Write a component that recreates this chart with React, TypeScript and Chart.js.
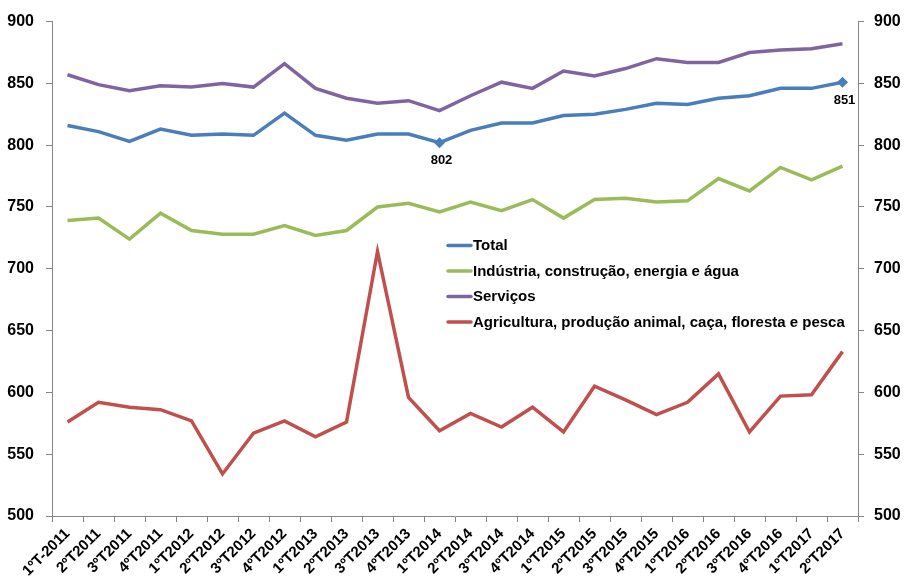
import React, { useEffect, useRef } from "react";
import { Chart, registerables } from "chart.js";

Chart.register(...registerables);

const categories = [
  "1ºT-2011", "2ºT2011", "3ºT2011", "4ºT2011",
  "1ºT2012", "2ºT2012", "3ºT2012", "4ºT2012",
  "1ºT2013", "2ºT2013", "3ºT2013", "4ºT2013",
  "1ºT2014", "2ºT2014", "3ºT2014", "4ºT2014",
  "1ºT2015", "2ºT2015", "3ºT2015", "4ºT2015",
  "1ºT2016", "2ºT2016", "3ºT2016", "4ºT2016",
  "1ºT2017", "2ºT2017",
];

const totalValues = [816, 811, 803, 813, 808, 809, 808, 826, 808, 804, 809, 809, 802, 812, 818, 818, 824, 825, 829, 834, 833, 838, 840, 846, 846, 851];
const industriaValues = [739, 741, 724, 745, 731, 728, 728, 735, 727, 731, 750, 753, 746, 754, 747, 756, 741, 756, 757, 754, 755, 773, 763, 782, 772, 783];
const servicosValues = [857, 849, 844, 848, 847, 850, 847, 866, 846, 838, 834, 836, 828, 840, 851, 846, 860, 856, 862, 870, 867, 867, 875, 877, 878, 882];
const agriculturaValues = [576, 592, 588, 586, 577, 534, 567, 577, 564, 576, 714, 596, 569, 583, 572, 588, 568, 605, 594, 582, 592, 615, 568, 597, 598, 633];

const yTicks = [500, 550, 600, 650, 700, 750, 800, 850, 900];

const labeledTotalIndices = [12, 25];

const seriesNames = [
  "Total",
  "Indústria, construção, energia e água",
  "Serviços",
  "Agricultura, produção animal, caça, floresta e pesca",
];
const seriesColors = ["#4A7EBB", "#9BBB59", "#8064A2", "#C0504D"];

const FONT = "'Liberation Sans', Arial, sans-serif";

export default function App() {
  const ref = useRef<HTMLCanvasElement | null>(null);

  useEffect(() => {
    if (!ref.current) return;

    const legendPlugin = {
      id: "insideLegend",
      afterDraw(chart: any) {
        const ctx = chart.ctx;
        ctx.save();
        ctx.font = `bold 15px ${FONT}`;
        ctx.textBaseline = "middle";
        ctx.fillStyle = "#000";
        const rows = [245.5, 271, 296.5, 322];
        seriesNames.forEach((name, i) => {
          ctx.strokeStyle = seriesColors[i];
          ctx.lineWidth = 3.5;
          ctx.lineCap = "round";
          ctx.beginPath();
          ctx.moveTo(448, rows[i]);
          ctx.lineTo(471, rows[i]);
          ctx.stroke();
          ctx.fillText(name, 473, rows[i] + 0.5);
        });
        ctx.restore();
      },
    };

    const dataLabelPlugin = {
      id: "dataLabels",
      afterDatasetsDraw(chart: any) {
        const ctx = chart.ctx;
        const meta = chart.getDatasetMeta(0);
        ctx.save();
        ctx.font = `bold 13px ${FONT}`;
        ctx.textAlign = "center";
        ctx.textBaseline = "middle";
        ctx.fillStyle = "#000";
        labeledTotalIndices.forEach((idx) => {
          const pt = meta.data[idx];
          ctx.fillText(String(totalValues[idx]), pt.x + 2, pt.y + 18);
        });
        ctx.restore();
      },
    };

    const pointRadii = totalValues.map((_, i) => (labeledTotalIndices.includes(i) ? 5.5 : 0));

    const axisColor = "#868686";

    const yScale = (pos: "left" | "right", width: number, padding: number) => ({
      position: pos,
      min: 500,
      max: 900,
      afterBuildTicks(scale: any) {
        scale.ticks = yTicks.map((v) => ({ value: v }));
      },
      ticks: {
        color: "#000",
        padding,
        font: { family: FONT, size: 16, weight: "bold" },
      },
      grid: {
        drawOnChartArea: false,
        drawTicks: true,
        tickLength: 6,
        color: axisColor,
      },
      border: { display: true, color: axisColor, width: 1 },
      afterFit(scale: any) {
        scale.width = width;
      },
    });

    const chart = new Chart(ref.current, {
      type: "line",
      data: {
        labels: categories,
        datasets: [
          {
            label: seriesNames[0],
            data: totalValues,
            borderColor: seriesColors[0],
            backgroundColor: seriesColors[0],
            borderWidth: 3.5,
            pointStyle: "rectRot",
            pointRadius: pointRadii,
            pointBorderWidth: 0,
            tension: 0,
          },
          {
            label: seriesNames[1],
            data: industriaValues,
            borderColor: seriesColors[1],
            backgroundColor: seriesColors[1],
            borderWidth: 3.5,
            pointRadius: 0,
            tension: 0,
          },
          {
            label: seriesNames[2],
            data: servicosValues,
            borderColor: seriesColors[2],
            backgroundColor: seriesColors[2],
            borderWidth: 3.5,
            pointRadius: 0,
            tension: 0,
          },
          {
            label: seriesNames[3],
            data: agriculturaValues,
            borderColor: seriesColors[3],
            backgroundColor: seriesColors[3],
            borderWidth: 3.5,
            pointRadius: 0,
            tension: 0,
          },
        ],
      },
      options: {
        animation: false,
        responsive: false,
        maintainAspectRatio: false,
        layout: { padding: { top: 18, left: 0, right: 0, bottom: 0 } },
        plugins: {
          legend: { display: false },
          tooltip: { enabled: false },
        },
        scales: {
          x: {
            type: "category",
            offset: true,
            grid: {
              offset: true,
              drawOnChartArea: false,
              drawTicks: true,
              tickLength: 6,
              color: axisColor,
            },
            border: { display: true, color: axisColor, width: 1 },
            ticks: {
              autoSkip: false,
              minRotation: 45,
              maxRotation: 45,
              color: "#000",
              padding: 3,
              font: { family: FONT, size: 15, weight: "bold" },
            },
            afterFit(scale: any) {
              scale.height = 65;
            },
          },
          y: yScale("left", 52, 12),
          y2: yScale("right", 46, 10),
        },
      },
      plugins: [legendPlugin, dataLabelPlugin],
    });

    return () => chart.destroy();
  }, []);

  return (
    <div style={{ position: "fixed", left: 0, top: 0, width: 904, height: 581, background: "#fff" }}>
      <canvas ref={ref} width={904} height={581} style={{ display: "block" }} />
    </div>
  );
}
